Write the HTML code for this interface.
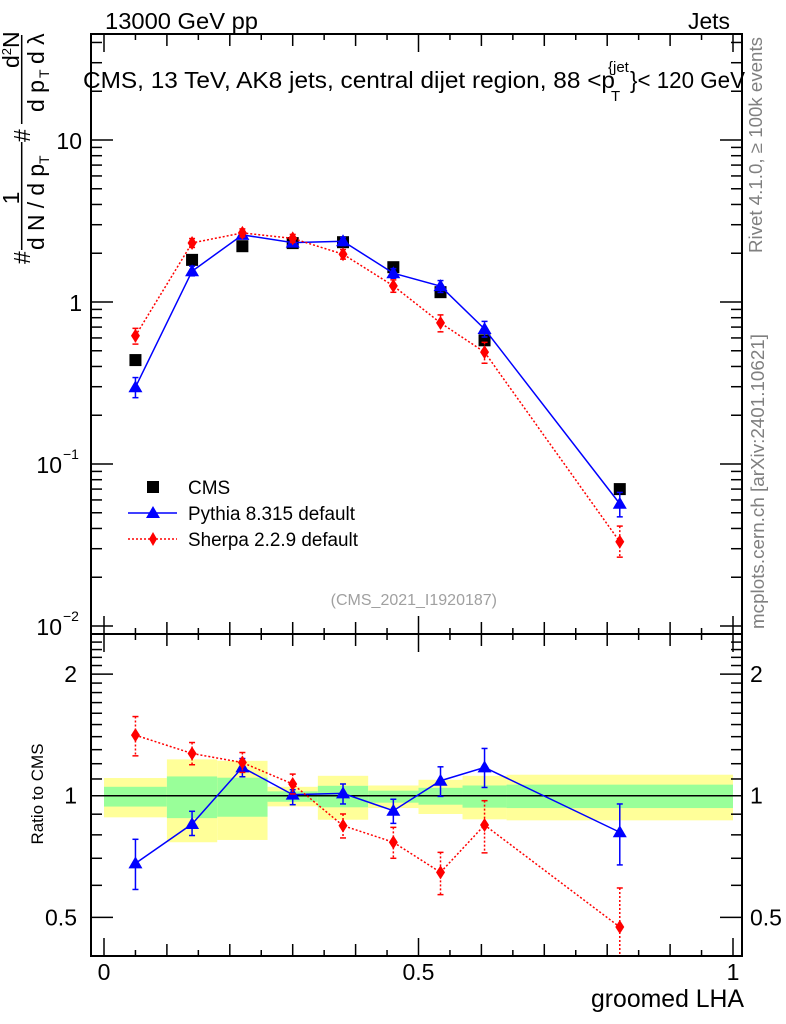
<!DOCTYPE html>
<html><head><meta charset="utf-8"><style>
html,body{margin:0;padding:0;background:#fff;}
svg{display:block;font-family:"Liberation Sans",Arial,sans-serif;}
</style></head><body>
<svg id="chart" width="786" height="1024" viewBox="0 0 786 1024" xmlns="http://www.w3.org/2000/svg">
<defs>
<clipPath id="cm"><rect x="91" y="34" width="651" height="600"/></clipPath>
<clipPath id="cr"><rect x="91" y="634" width="651" height="322"/></clipPath>
</defs>
<g id="bands" clip-path="url(#cr)"></g>
<g id="ratioMarks" clip-path="url(#cr)"></g>
<g id="mainMarks" clip-path="url(#cm)"></g>
<g id="axes"></g>

<text x="105" y="29" font-size="23" textLength="153" lengthAdjust="spacingAndGlyphs">13000 GeV pp</text>
<text x="688" y="29" font-size="23" textLength="42" lengthAdjust="spacingAndGlyphs">Jets</text>
<g>
<text x="83" y="88" font-size="23" textLength="532" lengthAdjust="spacingAndGlyphs">CMS, 13 TeV, AK8 jets, central dijet region, 88 &lt;p</text>
<text x="608" y="72" font-size="15">{jet</text>
<text x="611" y="101" font-size="15">T</text>
<text x="630" y="88" font-size="23" textLength="115" lengthAdjust="spacingAndGlyphs">}&lt; 120 GeV</text>
</g>
<text transform="translate(762,253) rotate(-90)" font-size="18" fill="#808080" textLength="216" lengthAdjust="spacingAndGlyphs">Rivet 4.1.0, ≥ 100k events</text>
<text transform="translate(764,629) rotate(-90)" font-size="18" fill="#808080" textLength="295" lengthAdjust="spacingAndGlyphs">mcplots.cern.ch [arXiv:2401.10621]</text>
<text x="497" y="605" font-size="16" fill="#a0a0a0" text-anchor="end">(CMS_2021_I1920187)</text>

<g transform="rotate(-90)" font-size="23">
<text x="-264" y="30">#</text>
<line x1="-250" y1="21.7" x2="-142" y2="21.7" stroke="#000" stroke-width="1.5"/>
<text x="-198" y="19" text-anchor="middle">1</text>
<text x="-250" y="44" textLength="86" lengthAdjust="spacingAndGlyphs">d N / d p</text>
<text x="-164" y="49" font-size="14">T</text>
<text x="-142" y="30">#</text>
<line x1="-124" y1="21.7" x2="-35" y2="21.7" stroke="#000" stroke-width="1.5"/>
<text x="-68" y="19">d<tspan font-size="13" dy="-8">2</tspan><tspan dy="8">N</tspan></text>
<text x="-112" y="44">d p</text>
<text x="-78" y="49" font-size="14">T</text>
<text x="-64" y="44">d λ</text>
</g>
<text transform="translate(43,794) rotate(-90)" font-size="17" text-anchor="middle">Ratio to CMS</text>
<text x="744" y="1007" font-size="25" text-anchor="end" textLength="153" lengthAdjust="spacingAndGlyphs">groomed LHA</text>

<g font-size="19">
<rect x="147" y="481" width="12" height="12" fill="#000"/>
<text x="188" y="494">CMS</text>
<line x1="128" y1="513" x2="177" y2="513" stroke="#0000ff" stroke-width="1.5"/>
<polygon points="153,506 160,518 146,518" fill="#0000ff"/>
<text x="188" y="520" textLength="167" lengthAdjust="spacingAndGlyphs">Pythia 8.315 default</text>
<line x1="128" y1="539" x2="177" y2="539" stroke="#ff0000" stroke-width="1.5" stroke-dasharray="2,2"/>
<polygon points="153,532 157,539 153,546 149,539" fill="#ff0000"/>
<text x="188" y="546" textLength="170" lengthAdjust="spacingAndGlyphs">Sherpa 2.2.9 default</text>
</g>
</svg>
<script>
const xCenters=[0.05,0.14,0.22,0.30,0.38,0.46,0.535,0.605,0.82];
const cmsValues=[0.438,1.82,2.21,2.31,2.34,1.64,1.15,0.58,0.070];
const pythiaRatio=[0.68,0.851,1.175,1.006,1.013,0.918,1.089,1.175,0.812];
const pythiaRatioHi=[0.78,0.915,1.236,1.035,1.069,0.98,1.179,1.309,0.954];
const pythiaRatioLo=[0.586,0.797,1.114,0.95,0.954,0.854,0.996,1.048,0.674];
const sherpaRatio=[1.412,1.272,1.208,1.069,0.843,0.767,0.646,0.846,0.473];
const sherpaRatioHi=[1.57,1.354,1.279,1.131,0.901,0.835,0.724,0.972,0.591];
const sherpaRatioLo=[1.255,1.193,1.142,1.01,0.786,0.70,0.569,0.722,0.38];
const binEdges=[0,0.1,0.18,0.26,0.34,0.42,0.5,0.57,0.64,1.0];
const yellowHi=[1.106,1.23,1.22,1.052,1.12,1.06,1.095,1.12,1.127];
const yellowLo=[0.884,0.767,0.777,0.941,0.872,0.932,0.901,0.874,0.869];
const greenHi=[1.052,1.116,1.108,1.025,1.058,1.029,1.046,1.06,1.065];
const greenLo=[0.94,0.88,0.887,0.966,0.936,0.961,0.95,0.934,0.932];
const mainTickLabels=["10","1"];
const ratioTickValues=[0.5,1,2];
const ratioTickLabels=["0.5","1","2"];
const xTickValues=[0,0.5,1];
const xTickLabels=["0","0.5","1"];

const NS="http://www.w3.org/2000/svg";
const X=v=>104+629*v;
const YM=v=>302-162*Math.log10(v);
const YR=v=>795.7-404*Math.log10(v);
function mk(tag,attrs,parent){const e=document.createElementNS(NS,tag);for(const k in attrs)e.setAttribute(k,attrs[k]);parent.appendChild(e);return e;}
const bands=document.getElementById('bands'),rm=document.getElementById('ratioMarks'),mm=document.getElementById('mainMarks'),ax=document.getElementById('axes');

for(let i=0;i<binEdges.length-1;i++){
 const x0=X(binEdges[i]),x1=X(binEdges[i+1]);
 const y=mk('rect',{x:x0,y:YR(yellowHi[i]),width:x1-x0,height:YR(yellowLo[i])-YR(yellowHi[i]),fill:'#ffff99'},bands);
 
 
 const g=mk('rect',{x:x0,y:YR(greenHi[i]),width:x1-x0,height:YR(greenLo[i])-YR(greenHi[i]),fill:'#99ff99'},bands);
 
 
}
mk('line',{x1:91,x2:742,y1:YR(1),y2:YR(1),stroke:'#000','stroke-width':1.5},bands);

function tri(x,y,c,p){return mk('polygon',{points:`${x},${y-7} ${x+7},${y+5} ${x-7},${y+5}`,fill:c},p);}
function dia(x,y,c,p){return mk('polygon',{points:`${x},${y-7} ${x+4.5},${y} ${x},${y+7} ${x-4.5},${y}`,fill:c},p);}
function series(par,Yf,vals,hi,lo,color,dash,shape,name){
 const pts=vals.map((v,i)=>X(xCenters[i])+','+Yf(v)).join(' ');
 const l=mk('polyline',{points:pts,fill:'none',stroke:color,'stroke-width':1.5},par);
 if(dash)l.setAttribute('stroke-dasharray','2,2');
 
 
 vals.forEach((v,i)=>{
  const x=X(xCenters[i]);
  const e=mk('line',{x1:x,x2:x,y1:Yf(hi[i]),y2:Yf(lo[i]),stroke:color,'stroke-width':1.5},par);
  if(dash)e.setAttribute('stroke-dasharray','2,2');
  
  
  mk('line',{x1:x-3,x2:x+3,y1:Yf(hi[i]),y2:Yf(hi[i]),stroke:color,'stroke-width':1.5},par);
  mk('line',{x1:x-3,x2:x+3,y1:Yf(lo[i]),y2:Yf(lo[i]),stroke:color,'stroke-width':1.5},par);
  const m=shape(x,Yf(v),color,par);
  
  
 });
}
series(rm,YR,pythiaRatio,pythiaRatioHi,pythiaRatioLo,'#0000ff',false,tri,'pythia-ratio');
series(rm,YR,sherpaRatio,sherpaRatioHi,sherpaRatioLo,'#ff0000',true,dia,'sherpa-ratio');

cmsValues.forEach((v,i)=>{
 const r=mk('rect',{x:X(xCenters[i])-6,y:YM(v)-6,width:12,height:12,fill:'#000'},mm);
 
 
});
const pv=cmsValues.map((c,i)=>c*pythiaRatio[i]);
const sv=cmsValues.map((c,i)=>c*sherpaRatio[i]);
series(mm,YM,pv,pv.map((v,i)=>v*pythiaRatioHi[i]/pythiaRatio[i]),pv.map((v,i)=>v*pythiaRatioLo[i]/pythiaRatio[i]),'#0000ff',false,tri,'pythia');
series(mm,YM,sv,sv.map((v,i)=>v*sherpaRatioHi[i]/sherpaRatio[i]),sv.map((v,i)=>v*sherpaRatioLo[i]/sherpaRatio[i]),'#ff0000',true,dia,'sherpa');

mk('rect',{x:91,y:34,width:651,height:600,fill:'none',stroke:'#000','stroke-width':2},ax);
mk('rect',{x:91,y:634,width:651,height:322,fill:'none',stroke:'#000','stroke-width':2},ax);
function L(x1,y1,x2,y2){mk('line',{x1,y1,x2,y2,stroke:'#000','stroke-width':1.5},ax);}
function T(x,y,s,anchor,size){const t=mk('text',{x,y,'font-size':size||23,'text-anchor':anchor||'middle'},ax);t.textContent=s;return t;}
for(let k=0;k<=20;k++){
 const v=k*0.05,x=X(v);
 const len=(k%10==0)?18:(k%2==0?12:6);
 L(x,956,x,956-len);L(x,634,x,634-len);L(x,634,x,634+len);L(x,34,x,34+len);
}
xTickValues.forEach((v,i)=>T(X(v),980,xTickLabels[i]));
for(let d=-2;d<=1;d++){
 for(let m=1;m<=9;m++){
  const v=m*Math.pow(10,d),y=YM(v);
  if(y<34||y>634)continue;
  const len=m==1?22:11;
  L(91,y,91+len,y);L(742,y,742-len,y);
 }
}
T(82,149,mainTickLabels[0],'end');T(82,311,mainTickLabels[1],'end');
T(62,473,'10','end');mk('text',{x:63,y:459,'font-size':14},ax).textContent='−1';
T(62,635,'10','end');mk('text',{x:63,y:621,'font-size':14},ax).textContent='−2';
for(let k=4;k<=24;k++){
 const v=k/10,y=YR(v);
 if(y<634||y>956)continue;
 const len=(k==5||k==10||k==20)?22:11;
 L(91,y,91+len,y);L(742,y,742-len,y);
}
ratioTickValues.forEach((v,i)=>{T(77,YR(v)+8,ratioTickLabels[i],'end');T(750,YR(v)+8,ratioTickLabels[i],'start');});
</script>
</body></html>
